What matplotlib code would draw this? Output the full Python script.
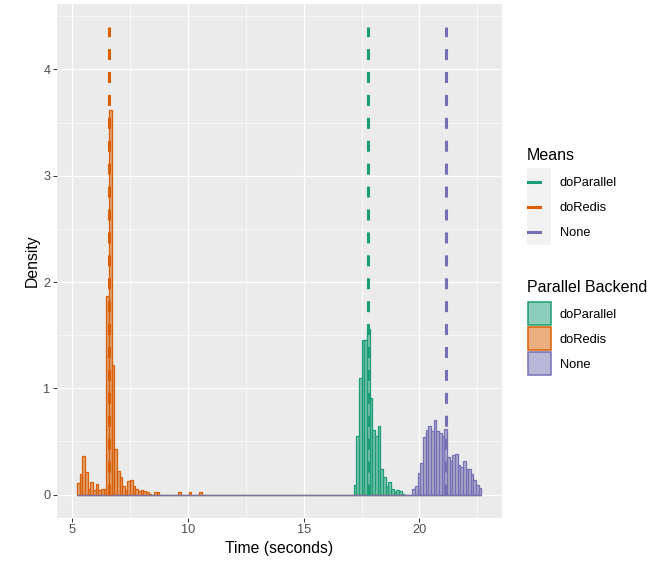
import numpy as np
import matplotlib.pyplot as plt
from matplotlib.colors import to_rgba
from matplotlib.patches import Rectangle
from matplotlib.lines import Line2D

plt.rcParams['font.family'] = ['Liberation Sans', 'DejaVu Sans']

# histogram bins (common to all groups)
bin_origin = 5.20
bin_width = 0.115
n_bins = 152

backends = ['doParallel', 'doRedis', 'None']
colors = ['#1B9E77', '#D95F02', '#7570B3']

# first bin index and densities of each group
parallel_start = 104
parallel_density = [0.09, 0.55, 1.10, 1.45, 1.45, 1.56, 0.91, 0.61, 0.55, 0.65,
                    0.24, 0.17, 0.08, 0.12, 0.05, 0.02, 0.04, 0.03, 0.01]
redis_start = 0
redis_density = [0.11, 0.19, 0.36, 0.21, 0.05, 0.12, 0.04, 0.10, 0.04, 0.05,
                 0.05, 1.87, 3.62, 1.22, 0.43, 0.22, 0.17, 0.08, 0.04, 0.13,
                 0.14, 0.08, 0.05, 0.03, 0.04, 0.03, 0.02, 0.01, 0.00, 0.02,
                 0.02, 0, 0, 0, 0, 0, 0, 0, 0.02, 0, 0, 0, 0.02, 0, 0, 0, 0.02]
none_start = 126
none_density = [0.05, 0.08, 0.20, 0.30, 0.54, 0.61, 0.65, 0.60, 0.70, 0.60,
                0.58, 0.55, 0.62, 0.35, 0.32, 0.37, 0.38, 0.28, 0.26, 0.32,
                0.24, 0.24, 0.19, 0.14, 0.09, 0.06]

# mean time of each backend
means = [17.79, 6.60, 21.15]
mean_top = 4.4

W, H = 671, 561
fig = plt.figure(figsize=(W / 100, H / 100), dpi=100)
ax = fig.add_axes([56.7 / W, 1 - 518 / H, 445 / W, 514.5 / H])
ax.set_facecolor('#EBEBEB')

edges = bin_origin + bin_width * np.arange(n_bins + 1)
starts = [parallel_start, redis_start, none_start]
dens = [parallel_density, redis_density, none_density]
for s, d, c in zip(starts, dens, colors):
    h = np.zeros(n_bins)
    h[s:s + len(d)] = d
    ax.bar(edges[:-1], h, width=bin_width, align='edge',
           color=to_rgba(c, 0.5), edgecolor=c, linewidth=0.9)

ax.vlines(means, 0, mean_top, colors=colors, linewidth=2.2,
          linestyles=[(0, (3.6, 3.9))])

# ggplot-like limits (5% expansion)
xr = edges[-1] - edges[0]
ax.set_xlim(edges[0] - 0.05 * xr, edges[-1] + 0.05 * xr)
ax.set_ylim(-0.05 * mean_top, 1.05 * mean_top)

ax.set_xticks([5, 10, 15, 20])
ax.set_xticks([7.5, 12.5, 17.5, 22.5], minor=True)
ax.set_yticks([0, 1, 2, 3, 4])
ax.set_yticks([0.5, 1.5, 2.5, 3.5, 4.5], minor=True)
ax.grid(which='major', color='white', linewidth=0.9)
ax.grid(which='minor', color='white', linewidth=0.45)
ax.set_axisbelow(True)
ax.tick_params(which='major', length=2.8, width=0.7, color='#333333',
               labelcolor='#4D4D4D', labelsize=9.2, pad=1.8)
ax.tick_params(which='minor', length=0)
for sp in ax.spines.values():
    sp.set_visible(False)
ax.set_xlabel('Time (seconds)', fontsize=11.3, labelpad=3.5)
ax.set_ylabel('Density', fontsize=11.3, labelpad=2.5)

# legends drawn in pixel positions
def fx(px):
    return px / W

def fy(py):
    return 1 - py / H

fig.text(fx(526.7), fy(160), 'Means', fontsize=11.5, va='baseline')
fig.patches.append(Rectangle((fx(526.7), fy(245)), 24.3 / W, 77 / H,
                             transform=fig.transFigure, facecolor='#F2F2F2',
                             edgecolor='none'))
for i, (lab, c) in enumerate(zip(backends, colors)):
    y = 181.7 + 25 * i
    fig.lines.append(Line2D([fx(528), fx(540)], [fy(y), fy(y)],
                            transform=fig.transFigure, color=c, linewidth=2.2))
    fig.text(fx(560), fy(y), lab, fontsize=9.3, va='center_baseline')

fig.text(fx(526.7), fy(292), 'Parallel Backend', fontsize=11.5, va='baseline')
for i, (lab, c) in enumerate(zip(backends, colors)):
    y0 = 302 + 25 * i
    fig.patches.append(Rectangle((fx(527.5), fy(y0 + 23)), 23 / W, 23 / H,
                                 transform=fig.transFigure,
                                 facecolor=to_rgba(c, 0.5), edgecolor=c,
                                 linewidth=1.1))
    fig.text(fx(560), fy(y0 + 11.5), lab, fontsize=9.3, va='center_baseline')

fig.savefig('out.png', dpi=100)
